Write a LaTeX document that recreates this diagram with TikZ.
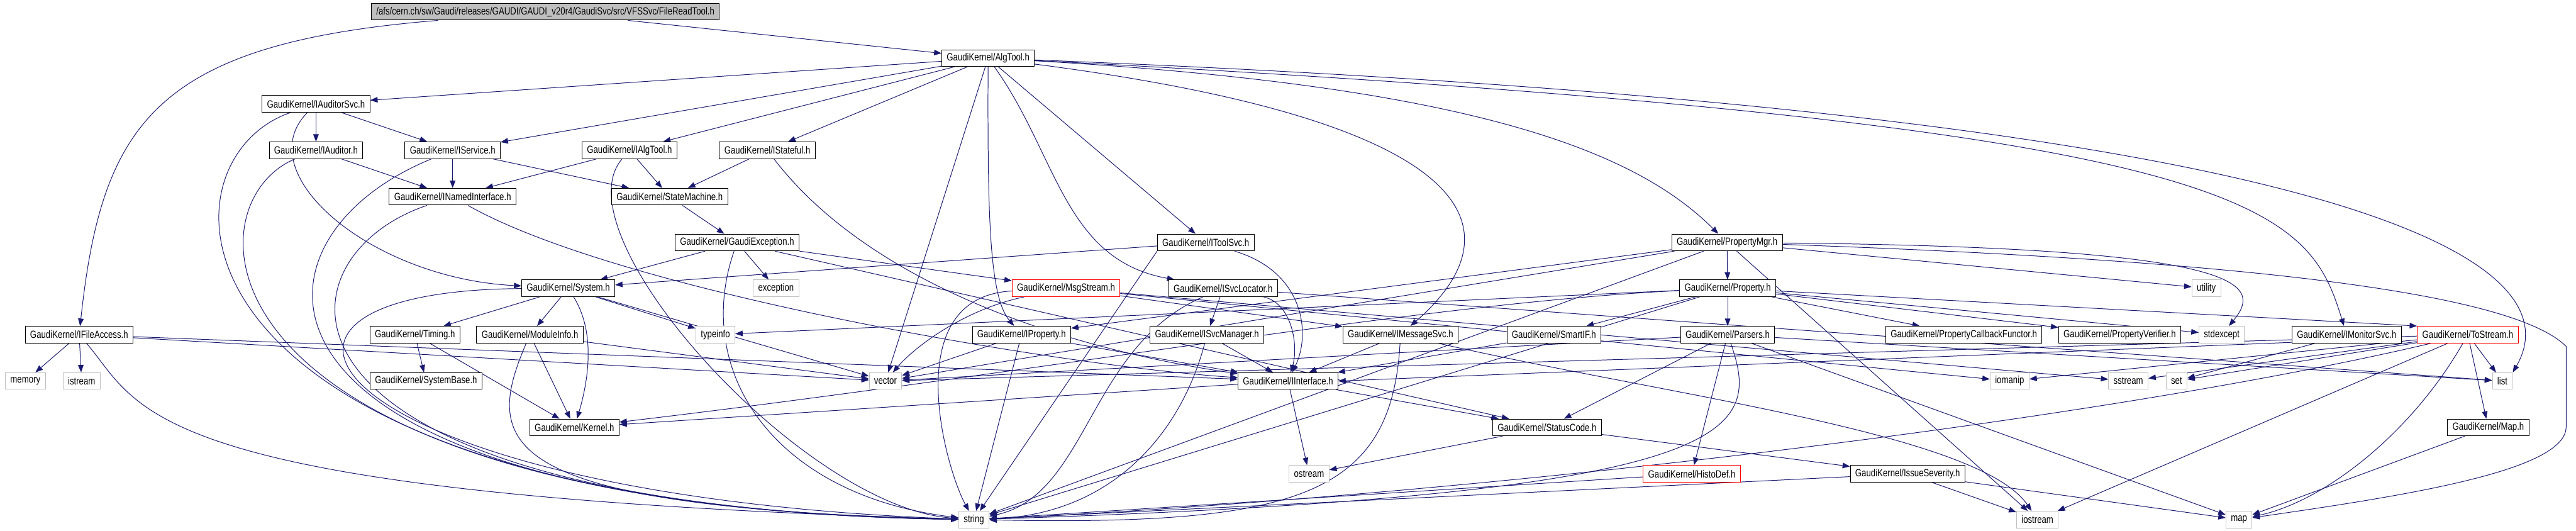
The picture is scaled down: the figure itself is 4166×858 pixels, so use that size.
\documentclass[tikz,border=0pt]{standalone}
\usepackage{fontspec}
\setmainfont{Liberation Sans}[FakeStretch=0.8]
\usetikzlibrary{arrows.meta,backgrounds}
\definecolor{edgeblue}{HTML}{191970}
\definecolor{sysgrey}{HTML}{BFBFBF}
\definecolor{warnred}{HTML}{FF0000}

\begin{document}
\begin{tikzpicture}[x=1pt,y=-1pt,
  hdrbox/.style={rectangle,draw=black,line width=1pt,fill=white,minimum height=27pt,inner xsep=8pt,inner ysep=0pt,font=\fontsize{16.8}{20}\selectfont},
  sysbox/.style={hdrbox,draw=sysgrey},
  redbox/.style={hdrbox,draw=warnred},
  rootbox/.style={hdrbox,fill=sysgrey},
  dep/.style={draw=edgeblue,line width=1pt,-{Triangle[length=12pt,width=9pt]}}]
\useasboundingbox (0,0) rectangle (4166,858);

\node[rootbox] (root) at (882,19) {/afs/cern.ch/sw/Gaudi/releases/GAUDI/GAUDI\_v20r4/GaudiSvc/src/VFSSvc/FileReadTool.h};
\node[hdrbox] (algtool) at (1598,94) {GaudiKernel/AlgTool.h};
\node[hdrbox] (iauditorsvc) at (511,168) {GaudiKernel/IAuditorSvc.h};
\node[hdrbox] (iauditor) at (511,243) {GaudiKernel/IAuditor.h};
\node[hdrbox] (iservice) at (732,243) {GaudiKernel/IService.h};
\node[hdrbox] (ialgtool) at (1018,243) {GaudiKernel/IAlgTool.h};
\node[hdrbox] (istateful) at (1241,243) {GaudiKernel/IStateful.h};
\node[hdrbox] (inamed) at (732,318) {GaudiKernel/INamedInterface.h};
\node[hdrbox] (statemachine) at (1083,318) {GaudiKernel/StateMachine.h};
\node[hdrbox] (gaudiexc) at (1192,392) {GaudiKernel/GaudiException.h};
\node[hdrbox] (itoolsvc) at (1950,392) {GaudiKernel/IToolSvc.h};
\node[hdrbox] (propmgr) at (2793,392) {GaudiKernel/PropertyMgr.h};
\node[hdrbox] (system) at (919,466) {GaudiKernel/System.h};
\node[sysbox] (exception) at (1255,466) {exception};
\node[redbox] (msgstream) at (1724,466) {GaudiKernel/MsgStream.h};
\node[hdrbox] (isvclocator) at (1978,466) {GaudiKernel/ISvcLocator.h};
\node[hdrbox] (property) at (2794,466) {GaudiKernel/Property.h};
\node[sysbox] (utility) at (3568,466) {utility};
\node[hdrbox] (ifileaccess) at (128,541) {GaudiKernel/IFileAccess.h};
\node[hdrbox] (timing) at (671,541) {GaudiKernel/Timing.h};
\node[hdrbox] (moduleinfo) at (857,541) {GaudiKernel/ModuleInfo.h};
\node[sysbox] (typeinfo) at (1157,541) {typeinfo};
\node[hdrbox] (iproperty) at (1652,541) {GaudiKernel/IProperty.h};
\node[hdrbox] (isvcmanager) at (1952,541) {GaudiKernel/ISvcManager.h};
\node[hdrbox] (imessagesvc) at (2265,541) {GaudiKernel/IMessageSvc.h};
\node[hdrbox] (smartif) at (2513,541) {GaudiKernel/SmartIF.h};
\node[hdrbox] (parsers) at (2794,541) {GaudiKernel/Parsers.h};
\node[hdrbox] (propcallback) at (3176,541) {GaudiKernel/PropertyCallbackFunctor.h};
\node[hdrbox] (propverifier) at (3428,541) {GaudiKernel/PropertyVerifier.h};
\node[sysbox] (stdexcept) at (3593,541) {stdexcept};
\node[hdrbox] (imonitorsvc) at (3795,541) {GaudiKernel/IMonitorSvc.h};
\node[redbox] (tostream) at (3991,541) {GaudiKernel/ToStream.h};
\node[sysbox] (memory) at (41,616) {memory};
\node[sysbox] (istream) at (132,616) {istream};
\node[hdrbox] (systembase) at (689,616) {GaudiKernel/SystemBase.h};
\node[sysbox] (vector) at (1432,616) {vector};
\node[hdrbox] (iinterface) at (2083,616) {GaudiKernel/IInterface.h};
\node[sysbox] (iomanip) at (3250,616) {iomanip};
\node[sysbox] (sstream) at (3442,616) {sstream};
\node[sysbox] (set) at (3520,616) {set};
\node[sysbox] (list) at (4047,616) {list};
\node[hdrbox] (kernel) at (929,691) {GaudiKernel/Kernel.h};
\node[hdrbox] (statuscode) at (2502,691) {GaudiKernel/StatusCode.h};
\node[hdrbox] (maph) at (4024,691) {GaudiKernel/Map.h};
\node[sysbox] (ostream) at (2117,766) {ostream};
\node[redbox] (histodef) at (2736,766) {GaudiKernel/HistoDef.h};
\node[hdrbox] (issueseverity) at (3085,766) {GaudiKernel/IssueSeverity.h};
\node[sysbox] (string) at (1575,840) {string};
\node[sysbox] (iostream) at (3295,840) {iostream};
\node[sysbox] (map) at (3621,840) {map};

\begin{scope}[on background layer]
% FileReadTool.h
\draw[dep] (root) -- (algtool);
\draw[dep] (root) .. controls (250,70) and (165,200) .. (ifileaccess);
% AlgTool.h
\draw[dep] (algtool) -- (iauditorsvc);
\draw[dep] (algtool) -- (iservice);
\draw[dep] (algtool) -- (ialgtool);
\draw[dep] (algtool) -- (istateful);
\draw[dep] (algtool) -- (itoolsvc);
\draw[dep] (algtool) -- (vector);
\draw[dep] (algtool) .. controls (2400,140) and (2650,250) .. (propmgr);
\draw[dep] (algtool) .. controls (1597,350) and (1600,480) .. (iproperty);
\draw[dep] (algtool) .. controls (1710,250) and (1720,420) .. (isvclocator);
\draw[dep] (algtool) .. controls (2420,200) and (2450,380) .. (imessagesvc);
\draw[dep] (algtool) .. controls (3650,200) and (3730,330) .. (imonitorsvc);
\draw[dep] (algtool) .. controls (4050,190) and (4140,470) .. (list.north east);
% left column
\draw[dep] (iauditorsvc) -- (iauditor);
\draw[dep] (iauditorsvc) -- (iservice);
\draw[dep] (iauditorsvc) .. controls (400,280) and (600,450) .. (system);
\draw[dep] (iauditorsvc) .. controls (240,260) and (240,820) .. (string);
\draw[dep] (iauditor) -- (inamed);
\draw[dep] (iauditor) .. controls (300,330) and (300,820) .. (string);
\draw[dep] (iservice) -- (inamed);
\draw[dep] (iservice) -- (statemachine);
\draw[dep] (iservice) .. controls (370,390) and (350,820) .. (string);
\draw[dep] (ialgtool) -- (inamed);
\draw[dep] (ialgtool) -- (statemachine);
\draw[dep] (ialgtool) .. controls (900,380) and (1300,820) .. (string);
\draw[dep] (istateful) -- (statemachine);
\draw[dep] (istateful) .. controls (1400,450) and (1700,560) .. (iinterface);
\draw[dep] (inamed) .. controls (1000,470) and (1700,590) .. (iinterface);
\draw[dep] (inamed) .. controls (430,420) and (400,820) .. (string);
\draw[dep] (statemachine) -- (gaudiexc);
% GaudiException.h
\draw[dep] (gaudiexc) -- (system);
\draw[dep] (gaudiexc) -- (exception);
\draw[dep] (gaudiexc) -- (msgstream);
\draw[dep] (gaudiexc) -- (statuscode);
\draw[dep] (gaudiexc) .. controls (1120,600) and (1250,800) .. (string);
% System.h
\draw[dep] (system) -- (timing);
\draw[dep] (system) -- (moduleinfo);
\draw[dep] (system) -- (typeinfo);
\draw[dep] (system) -- (vector);
\draw[dep] (system) .. controls (965,540) and (950,620) .. (kernel);
\draw[dep] (system) .. controls (300,470) and (520,800) .. (string);
\draw[dep] (timing) -- (systembase);
\draw[dep] (timing) -- (kernel);
\draw[dep] (moduleinfo) -- (kernel);
\draw[dep] (moduleinfo) -- (vector);
\draw[dep] (moduleinfo) .. controls (780,720) and (800,820) .. (string);
% IFileAccess.h
\draw[dep] (ifileaccess) -- (memory);
\draw[dep] (ifileaccess) -- (istream);
\draw[dep] (ifileaccess) -- (vector);
\draw[dep] (ifileaccess) -- (iinterface);
\draw[dep] (ifileaccess) .. controls (230,660) and (220,800) .. (string);
% middle
\draw[dep] (msgstream) -- (imessagesvc);
\draw[dep] (msgstream) -- (iomanip);
\draw[dep] (msgstream) -- (sstream);
\draw[dep] (msgstream) .. controls (1560,500) and (1480,560) .. (vector);
\draw[dep] (msgstream) .. controls (1450,480) and (1530,760) .. (string);
\draw[dep] (itoolsvc) -- (system);
\draw[dep] (itoolsvc) .. controls (2110,440) and (2120,540) .. (iinterface);
\draw[dep] (itoolsvc.south west) -- (string);
\draw[dep] (isvclocator) -- (isvcmanager);
\draw[dep] (isvclocator) -- (list);
\draw[dep] (isvclocator) .. controls (2090,490) and (2100,560) .. (iinterface);
\draw[dep] (isvclocator) .. controls (1760,560) and (1760,800) .. (string);
\draw[dep] (isvcmanager) -- (iinterface);
\draw[dep] (isvcmanager) .. controls (1910,700) and (1800,830) .. (string);
\draw[dep] (iproperty) -- (iinterface);
\draw[dep] (iproperty) -- (vector);
\draw[dep] (iproperty) -- (string);
\draw[dep] (iinterface) -- (kernel);
\draw[dep] (iinterface) -- (statuscode);
\draw[dep] (iinterface) -- (ostream);
\draw[dep] (imessagesvc) -- (iinterface);
\draw[dep] (imessagesvc) .. controls (2700,640) and (3200,700) .. (iostream);
\draw[dep] (imessagesvc) .. controls (2250,800) and (2100,850) .. (string);
\draw[dep] (smartif) -- (iinterface);
\draw[dep] (statuscode) -- (issueseverity);
\draw[dep] (statuscode) -- (ostream);
\draw[dep] (issueseverity) -- (iostream);
\draw[dep] (issueseverity) -- (string);
\draw[dep] (issueseverity) -- (map);
\draw[dep] (histodef) -- (string);
% Parsers.h, Property.h, PropertyMgr.h
\draw[dep] (parsers) -- (histodef);
\draw[dep] (parsers) -- (statuscode);
\draw[dep] (parsers) -- (map);
\draw[dep] (parsers) -- (vector);
\draw[dep] (parsers) -- (list);
\draw[dep] (parsers) .. controls (2850,700) and (2820,800) .. (string);
\draw[dep] (property) -- (parsers);
\draw[dep] (property) -- (smartif);
\draw[dep] (property) -- (propcallback);
\draw[dep] (property) -- (propverifier);
\draw[dep] (property) -- (typeinfo);
\draw[dep] (property) -- (string);
\draw[dep] (property) -- (stdexcept);
\draw[dep] (property) -- (tostream.north west);
\draw[dep] (property) .. controls (2300,490) and (1700,600) .. (kernel);
\draw[dep] (propmgr) -- (property);
\draw[dep] (propmgr) -- (iproperty);
\draw[dep] (propmgr) -- (vector);
\draw[dep] (propmgr) -- (string);
\draw[dep] (propmgr) -- (utility);
\draw[dep] (propmgr) -- (iostream);
\draw[dep] (propmgr) .. controls (3640,400) and (3660,460) .. (stdexcept);
\draw[dep] (propmgr) .. controls (3600,420) and (4060,470) .. (4150,560) -- (4150,690) .. controls (4150,760) and (3900,800) .. (map);
% right column
\draw[dep] (imonitorsvc.188) -- (iinterface.east);
\draw[dep] (imonitorsvc) -- (set);
\draw[dep] (tostream) -- (list);
\draw[dep] (tostream) -- (maph);
\draw[dep] (tostream) -- (iostream);
\draw[dep] (tostream) -- (set);
\draw[dep] (tostream) -- (sstream);
\draw[dep] (tostream) -- (iomanip);
\draw[dep] (tostream) -- (vector);
\draw[dep] (tostream) .. controls (3900,700) and (3760,810) .. (map);
\draw[dep] (tostream) .. controls (3400,680) and (2400,800) .. (string);
\draw[dep] (maph) -- (map);
\end{scope}
\end{tikzpicture}
\end{document}
